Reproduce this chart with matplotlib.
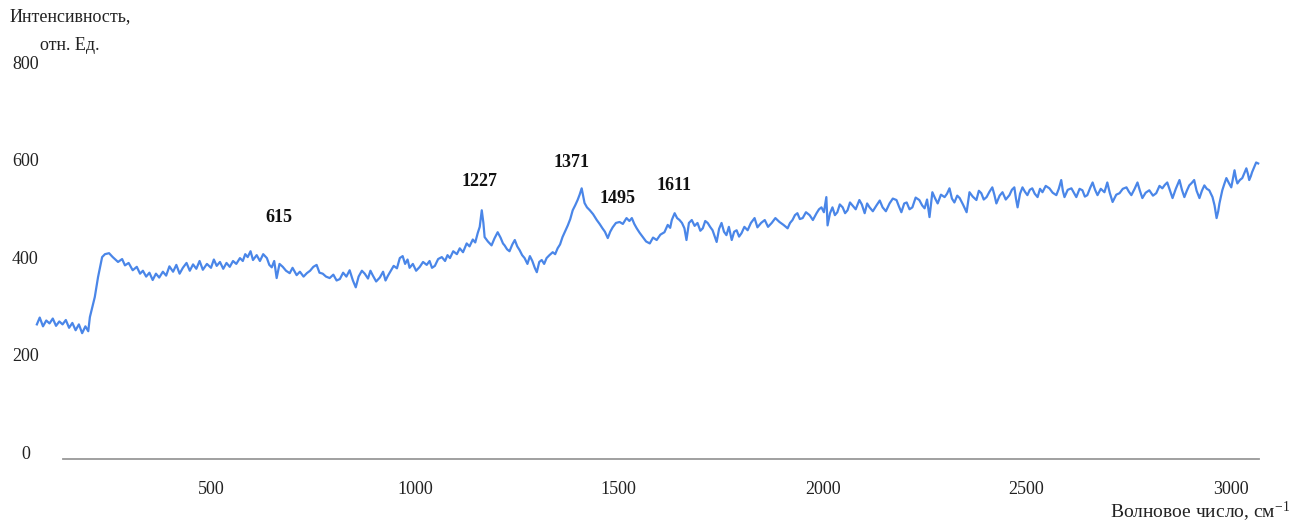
import matplotlib.pyplot as plt

# Raman spectrum
wavenumber = [
    73, 80, 88, 96, 104, 112, 120, 128, 136, 144, 152, 160, 168, 176, 184, 192, 199,
    203, 215, 223, 233, 240, 250, 259,
    272, 282, 289, 298, 308, 318, 326, 333, 341, 349, 357, 365, 373, 382, 390, 398,
    407, 415, 423, 431, 440, 448, 456, 464, 472, 480, 490, 500, 507, 514, 522, 530,
    538, 546, 554, 562, 571, 578, 584, 590, 597,
    603, 612, 620, 628, 637, 643, 649, 655, 661, 668, 676, 684, 693, 700, 710, 718,
    727, 735, 743, 751, 759, 766, 774, 782, 791, 800, 808, 816, 824, 832, 840, 848,
    855, 862, 870, 877, 885, 891, 897, 905, 914, 922, 928, 934, 941, 948, 956, 963,
    970, 976, 982, 987, 995, 1003, 1012, 1020, 1029, 1036, 1042, 1049, 1057, 1066,
    1074, 1080, 1086, 1094, 1103,
    1110, 1118, 1127, 1134, 1142, 1148, 1154, 1159, 1164, 1168, 1171, 1179, 1188,
    1195, 1203, 1210, 1216, 1220, 1226, 1232, 1239, 1245, 1251, 1257, 1263, 1269,
    1276, 1282, 1288, 1294, 1299, 1305, 1311, 1317, 1323, 1330, 1338, 1344, 1350,
    1356, 1362, 1368, 1375, 1381, 1387, 1393, 1399, 1404, 1409, 1413, 1416, 1422,
    1429, 1437, 1446, 1453, 1460, 1466, 1473, 1479, 1485, 1493, 1502, 1510, 1519,
    1526, 1532, 1538, 1544, 1551, 1559, 1567, 1576, 1584, 1593, 1602, 1612, 1620,
    1626, 1630, 1637, 1643, 1649, 1655, 1661, 1666, 1672, 1679,
    1686, 1693, 1700, 1706, 1712, 1718, 1724, 1730, 1740, 1746, 1752, 1758, 1764,
    1770, 1777, 1783, 1789, 1795, 1801, 1808, 1816, 1824, 1833, 1840, 1849, 1858,
    1866, 1875, 1884, 1894, 1904, 1914, 1920, 1926, 1932, 1938, 1944, 1951, 1959,
    1968, 1976, 1985, 1991, 1997, 2003, 2009, 2012, 2018, 2024, 2030, 2036, 2042,
    2049, 2055, 2061, 2067, 2073, 2081, 2090, 2096, 2103, 2109, 2115, 2123, 2132,
    2140, 2147, 2155, 2164, 2172, 2181, 2187, 2193, 2200, 2206, 2213, 2220, 2228,
    2237, 2244, 2250, 2256, 2262, 2269, 2276, 2282, 2290, 2299, 2305, 2311, 2317,
    2323, 2330, 2336, 2344, 2353, 2360, 2368, 2377, 2383, 2389, 2395, 2402, 2409,
    2416, 2421, 2426, 2434, 2441, 2449, 2458, 2464, 2470, 2474, 2478, 2484, 2490,
    2496, 2502, 2508, 2514, 2520, 2527, 2533, 2539, 2547, 2556, 2564, 2573, 2579,
    2585, 2589, 2593, 2601, 2610, 2616, 2622, 2630, 2637, 2643, 2649, 2656, 2662,
    2668, 2674, 2682, 2691, 2698, 2704, 2711, 2720, 2728, 2736, 2745, 2751, 2757,
    2765, 2772, 2778, 2784, 2792, 2801, 2810, 2818, 2826, 2833, 2839, 2845, 2851,
    2858, 2866, 2875, 2881, 2887, 2893, 2899, 2905, 2911, 2917, 2924, 2930, 2936,
    2942, 2948, 2952, 2956, 2961, 2964, 2966, 2970, 2973, 2977, 2980, 2985, 2990,
    2996, 3002, 3006, 3010, 3014, 3017, 3023, 3029, 3034, 3039, 3043, 3046, 3050,
    3053, 3058, 3063, 3068,
]
intensity = [
    262, 276, 258, 270, 264, 274, 259, 268, 262, 271, 255, 265, 250, 262, 244, 258, 248,
    277, 318, 359, 400, 406, 408, 400,
    390, 396, 383, 388, 373, 380, 366, 372, 360, 368, 353, 366, 358, 370, 362, 381,
    370, 384, 366, 378, 388, 372, 385, 376, 392, 374, 386, 378, 395, 382, 390, 376,
    388, 380, 392, 386, 398, 392, 406, 400, 412,
    394, 404, 392, 406, 398, 384, 379, 392, 357, 386, 380, 372, 367, 378, 363, 370,
    360, 367, 372, 380, 384, 368, 366, 360, 357, 364, 352, 355, 368, 360, 373, 352,
    338, 360, 372, 366, 356, 372, 362, 350, 358, 370, 352, 362, 372, 382, 377, 398,
    402, 386, 395, 378, 386, 372, 380, 390, 384, 392, 378, 382, 396, 400,
    392, 404, 398, 412, 406,
    418, 410, 428, 422, 436, 430, 449, 462, 496, 470, 441, 432, 424,
    438, 451, 440, 428, 424, 416, 412, 426, 435, 422, 414, 404, 398,
    386, 402, 392, 378, 369, 390, 394, 386, 398, 404, 410, 406, 418,
    426, 441, 452, 465, 478, 496, 506, 517, 528, 541, 524, 511, 502,
    496, 488, 476, 468, 459, 452, 439, 452, 461, 470, 472, 468, 480,
    474, 480, 468, 459, 450, 441, 432, 428, 440, 435, 446, 451, 466,
    460, 476, 490, 480, 476, 470, 459, 435, 470, 476,
    464, 470, 454, 459, 474, 470, 462, 455, 431, 458, 470, 452, 445,
    462, 435, 452, 455, 442, 449, 462, 455, 470, 480, 461, 470, 476,
    462, 470, 480, 472, 466, 459, 470, 476, 486, 490, 478, 480, 492,
    486, 476, 490, 498, 502, 492, 523, 465, 490, 502, 486, 492, 508,
    502, 490, 496, 512, 506, 498, 517, 508, 490, 510, 502, 494, 506,
    516, 502, 494, 510, 520, 517, 504, 492, 510, 512, 498, 502, 522,
    517, 506, 500, 518, 482, 533, 520, 510, 528, 523, 530, 541, 520,
    512, 526, 521, 508, 492, 533, 524, 517, 536, 531, 518, 523, 534,
    543, 528, 510, 526, 533, 518, 527, 538, 543, 520, 502, 530, 543,
    534, 527, 538, 541, 530, 523, 540, 533, 546, 541, 532, 527, 540,
    558, 536, 523, 538, 541, 532, 523, 540, 537, 524, 527, 542, 553,
    538, 527, 540, 533, 553, 532, 513, 528, 531, 540, 543, 534, 527,
    540, 553, 536, 521, 532, 537, 526, 531, 546, 541, 548, 553, 538,
    521, 540, 558, 538, 523, 536, 547, 552, 558, 536, 521, 536, 547,
    540, 537, 530, 523, 506, 490, 480, 494, 510, 526, 537, 550, 562,
    552, 543, 560, 578, 560, 551, 558, 562, 572, 582, 570, 558, 566,
    574, 584, 594, 592,
]

peak_labels = ['615', '1227', '1371', '1495', '1611']
peak_x = [666, 1159, 1385, 1496, 1635]
peak_y = [482, 554, 593, 521, 547]

x_ticks = [500, 1000, 1500, 2000, 2500, 3000]
y_ticks = [0, 200, 400, 600, 800]

plt.rcParams['font.family'] = ['Liberation Serif', 'DejaVu Serif']
plt.rcParams['mathtext.fontset'] = 'custom'
plt.rcParams['mathtext.rm'] = 'Liberation Serif'

fig = plt.figure(figsize=(13.12, 5.26), dpi=100)
ax = fig.add_axes([0.048, 0.1274, 0.9116, 0.7547])

ax.plot(wavenumber, intensity, color='#4a86e8', linewidth=1.6, clip_on=False)

for lab, px, py in zip(peak_labels, peak_x, peak_y):
    ax.text(px, py, lab, ha='center', va='center', fontsize=13,
            fontweight='bold', color='#111111')

ax.set_xlim(137, 3070)
ax.set_ylim(-14, 800)
ax.set_xticks(x_ticks)
ax.set_yticks(y_ticks)
ax.tick_params(axis='both', length=0, labelsize=13, colors='#222222')
ax.tick_params(axis='x', pad=16)
ax.tick_params(axis='y', pad=27)
for lbl in ax.get_yticklabels():
    lbl.set_horizontalalignment('center')

for side in ['top', 'right', 'left']:
    ax.spines[side].set_visible(False)
ax.spines['bottom'].set_color('#999999')
ax.spines['bottom'].set_linewidth(1.3)

fig.text(10 / 1312, 1 - 17 / 526, 'Интенсивность,', ha='left', va='center',
         fontsize=13, color='#222222')
fig.text(40 / 1312, 1 - 45 / 526, 'отн. Ед.', ha='left', va='center',
         fontsize=13, color='#222222')
fig.text(1110 / 1312, 1 - 512 / 526, r'Волновое число, см$\mathregular{^{-1}}$',
         ha='left', va='center', fontsize=14, color='#222222')

fig.savefig('out.png', dpi=100)
